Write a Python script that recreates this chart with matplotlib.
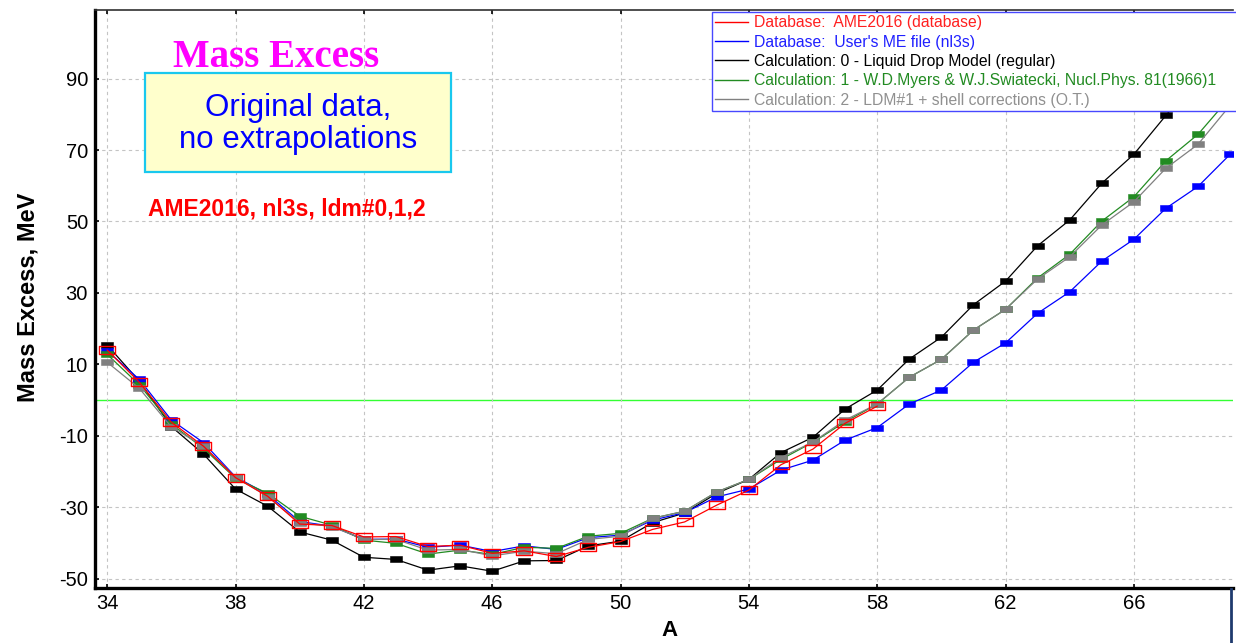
import matplotlib
matplotlib.use('Agg')
import matplotlib.pyplot as plt
from matplotlib.lines import Line2D
from matplotlib.patches import Rectangle
from matplotlib.path import Path

# Ca isotopes, mass excess in MeV
A_db = list(range(34, 59))
A_calc = list(range(34, 70))

ame2016 = [14.0, 5.0, -6.2, -12.9, -21.7, -26.9, -34.7, -35.1, -38.3, -38.2,
           -41.0, -40.6, -42.9, -42.2, -43.8, -41.2, -39.6, -36.2, -34.1, -29.4,
           -25.2, -18.1, -13.7, -6.5, -1.7]
nl3s = [13.8, 5.8, -5.6, -11.9, -21.5, -26.4, -34.0, -35.3, -39.0, -38.9,
        -41.2, -40.6, -42.4, -40.8, -41.8, -38.5, -37.8, -33.6, -31.5, -27.1,
        -24.9, -19.6, -16.8, -11.2, -7.7, -1.1, 2.8, 10.6, 16.0, 24.3,
        30.3, 38.9, 45.0, 53.7, 59.8, 68.8]
ldm0 = [15.4, 5.3, -7.4, -15.1, -24.9, -29.7, -36.9, -39.2, -44.0, -44.6,
        -47.6, -46.4, -47.9, -45.0, -44.9, -40.8, -39.5, -34.3, -31.6, -26.1,
        -22.2, -14.7, -10.4, -2.5, 2.8, 11.5, 17.6, 26.7, 33.3, 43.2,
        50.4, 60.7, 68.8, 79.7, 90.5, 101.5]
ldm1 = [12.8, 4.3, -6.7, -13.5, -21.9, -26.1, -32.5, -35.0, -39.2, -40.1,
        -43.1, -42.0, -43.2, -41.2, -41.5, -38.1, -37.3, -33.1, -31.1, -25.7,
        -22.2, -16.6, -11.8, -6.1, -1.1, 6.4, 11.4, 19.6, 25.4, 34.2,
        40.8, 50.1, 56.9, 67.0, 74.4, 84.8]
ldm2 = [10.6, 3.3, -7.5, -12.9, -21.6, -27.0, -34.3, -35.4, -39.0, -39.0,
        -42.0, -41.8, -43.6, -42.3, -43.0, -39.0, -38.1, -33.1, -31.1, -25.7,
        -22.2, -16.1, -11.7, -5.6, -1.1, 6.4, 11.4, 19.6, 25.4, 33.9,
        40.1, 49.0, 55.5, 64.9, 71.6, 82.5]

legend_labels = [
    "Database:  AME2016 (database)",
    "Database:  User's ME file (nl3s)",
    "Calculation: 0 - Liquid Drop Model (regular)",
    "Calculation: 1 - W.D.Myers & W.J.Swiatecki, Nucl.Phys. 81(1966)1",
    "Calculation: 2 - LDM#1 + shell corrections (O.T.)",
]
line_colors = ['#ff0000', '#0000ff', '#000000', '#228b22', '#808080']
text_colors = ['#ff2020', '#2020ff', '#000000', '#228b22', '#909090']

x_ticks = [34, 38, 42, 46, 50, 54, 58, 62, 66]
y_ticks = [-50, -30, -10, 10, 30, 50, 70, 90]

plt.rcParams['font.family'] = ['Liberation Sans', 'DejaVu Sans']
plt.rcParams['axes.unicode_minus'] = False

W, H = 1236, 643
fig = plt.figure(figsize=(W / 100, H / 100), dpi=100)
ax = fig.add_axes([95 / W, 1 - 588 / H, (1233 - 95) / W, (588 - 10) / H])

# flat rectangle marker
rect = Path([(-1, -0.5), (1, -0.5), (1, 0.5), (-1, 0.5), (-1, -0.5)],
            [Path.MOVETO, Path.LINETO, Path.LINETO, Path.LINETO, Path.CLOSEPOLY])

ax.axhline(0, color='#33ff33', lw=1.0, zorder=1.5)

series = [(A_calc, ldm0, line_colors[2]), (A_calc, nl3s, line_colors[1]),
          (A_calc, ldm1, line_colors[3]), (A_calc, ldm2, line_colors[4])]
for xs, ys, c in series:
    ax.plot(xs, ys, color=c, lw=0.9, marker=rect, ms=8.3, mfc=c, mec=c, mew=0.4)
ax.plot(A_db, ame2016, color=line_colors[0], lw=0.9, marker=rect, ms=11.5,
        mfc='none', mec=line_colors[0], mew=1.0)

ax.set_xlim(33.62, 69.09)
ax.set_ylim(-52.6, 109.2)
ax.set_xticks(x_ticks)
ax.set_yticks(y_ticks)
ax.grid(True, color='#c4c4c4', linestyle=(0, (3, 3)), lw=0.8)
ax.tick_params(direction='in', length=3, width=1.2, top=True, labelsize=14.5)
ax.tick_params(axis='y', pad=5)
ax.tick_params(axis='x', pad=4)
ax.spines['left'].set_linewidth(2.4)
ax.spines['bottom'].set_linewidth(2.4)
ax.spines['top'].set_linewidth(1.2)
ax.spines['top'].set_color('#303030')
ax.spines['right'].set_visible(False)

handles = [Line2D([], [], color=c, lw=1.0) for c in line_colors]
leg = ax.legend(handles, legend_labels, loc='upper left', mode='expand',
                bbox_to_anchor=((712 - 95) / 1138, (588 - 12) / 578,
                                (1250 - 712) / 1138, 0.0),
                fontsize=11.3, frameon=True, fancybox=False, framealpha=1,
                edgecolor='#4848ff', handlelength=2.1, handletextpad=0.4,
                labelspacing=0.28, borderpad=0.2, borderaxespad=0)
leg.get_frame().set_linewidth(1.0)
for t, c in zip(leg.get_texts(), text_colors):
    t.set_color(c)

fig.text(28 / W, 1 - 297 / H, 'Mass Excess, MeV', rotation=90, ha='center',
         va='center', fontsize=17, fontweight='bold')
fig.text(669 / W, 1 - 630 / H, 'A', ha='center', va='center', fontsize=16,
         fontweight='bold')

fig.text(276 / W, 1 - 67 / H, 'Mass Excess', ha='center', va='baseline',
         fontsize=28, fontweight='bold', color='#ff00ff',
         family=['Liberation Serif', 'DejaVu Serif'])
fig.add_artist(Rectangle((145 / W, 1 - 172 / H), (451 - 145) / W, (172 - 73) / H,
                         transform=fig.transFigure, facecolor='#ffffcc',
                         edgecolor='#19c8ee', lw=1.6, zorder=3))
fig.text(298 / W, 1 - 124 / H, 'Original data,\nno extrapolations', ha='center',
         va='center', fontsize=22.5, color='#0000ff', linespacing=1.12, zorder=4)
fig.text(148 / W, 1 - 215 / H, 'AME2016, nl3s, ldm#0,1,2', ha='left',
         va='baseline', fontsize=16.5, fontweight='bold', color='#ff0000')

fig.add_artist(Line2D([1231 / W, 1231 / W], [0, 1 - 589 / H],
                      transform=fig.transFigure, color='#1f3a6e', lw=2))

fig.savefig('out.png', dpi=100)
